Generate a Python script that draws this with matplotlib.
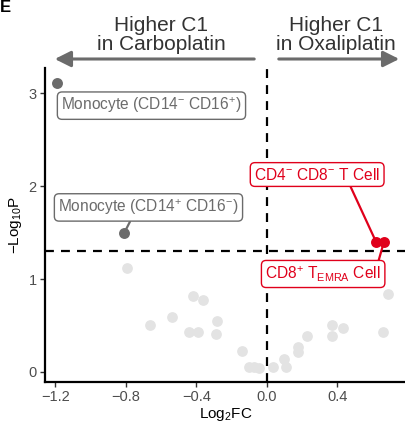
import matplotlib
matplotlib.use("Agg")
import matplotlib.pyplot as plt

plt.rcParams["font.family"] = ["Liberation Sans", "DejaVu Sans"]
plt.rcParams["mathtext.fontset"] = "custom"
plt.rcParams["mathtext.rm"] = "Liberation Sans"
plt.rcParams["mathtext.it"] = "Liberation Sans"
plt.rcParams["mathtext.default"] = "regular"

# non-significant cell types
bg_fc = [-0.79, -0.42, -0.36, -0.66, -0.54, -0.28, -0.44, -0.39, -0.29, -0.14,
         -0.10, -0.07, -0.045, 0.035, 0.10, 0.11, 0.18, 0.18, 0.23, 0.37,
         0.43, 0.37, 0.69, 0.66]
bg_p = [1.12, 0.82, 0.77, 0.51, 0.59, 0.55, 0.43, 0.43, 0.41, 0.23,
        0.05, 0.05, 0.04, 0.05, 0.14, 0.05, 0.27, 0.22, 0.39, 0.51,
        0.47, 0.39, 0.84, 0.43]

# labelled cell types
lab_names = ["Monocyte (CD14$^{-}$ CD16$^{+}$)",
             "Monocyte (CD14$^{+}$ CD16$^{-}$)",
             "CD4$^{-}$ CD8$^{-}$ T Cell",
             "CD8$^{+}$ T$_{EMRA}$ Cell"]
lab_fc = [-1.19, -0.81, 0.62, 0.665]
lab_p = [3.11, 1.49, 1.40, 1.40]
lab_group = ["carbo", "carbo", "oxali", "oxali"]

# where ggrepel put the boxes
box_x = [-0.654, -0.671, 0.286, 0.32]
box_y = [2.865, 1.77, 2.124, 1.054]
box_rel = [None, (0.41, 0.0), (0.75, 0.0), (0.97, 1.0)]

colors = {"carbo": "#6B6B6B", "oxali": "#E0001B"}

fig = plt.figure(figsize=(4.06, 4.28), dpi=100)
ax = fig.add_axes([45 / 406, 46 / 428, 361 / 406, 314 / 428])

ax.scatter(bg_fc, bg_p, s=60, color="#E3E3E3", linewidths=0, zorder=2)

ax.axhline(1.301, color="black", lw=1.6, ls=(0, (4, 3.2)), zorder=3)
ax.axvline(0, color="black", lw=1.6, ls=(0, (4, 3.2)), zorder=3)

for name, x, y, g, bx, by, rel in zip(lab_names, lab_fc, lab_p, lab_group,
                                      box_x, box_y, box_rel):
    c = colors[g]
    ax.scatter([x], [y], s=62, color=c, linewidths=0, zorder=4)
    props = None
    if rel is not None:
        props = dict(arrowstyle="-", color=c, lw=1.6, relpos=rel,
                     shrinkA=0, shrinkB=3)
    ax.annotate(name, xy=(x, y), xytext=(bx, by), ha="center", va="center",
                fontsize=11.2, color=c, zorder=5,
                bbox=dict(boxstyle="round,pad=0.25,rounding_size=0.3",
                          fc="white", ec=c, lw=1.0),
                arrowprops=props)

ax.set_xlim(-1.258, 0.79)
ax.set_ylim(-0.108, 3.27)
ax.set_xticks([-1.2, -0.8, -0.4, 0.0, 0.4])
ax.set_xticklabels(["\u22121.2", "\u22120.8", "\u22120.4", "0.0", "0.4"])
ax.set_yticks([0, 1, 2, 3])

for s in ["top", "right"]:
    ax.spines[s].set_visible(False)
for s in ["left", "bottom"]:
    ax.spines[s].set_linewidth(1.6)
ax.tick_params(labelsize=10.5, labelcolor="#4D4D4D", color="#333333",
               length=3.5, width=1.0, pad=2.5)

ax.set_xlabel("Log$_{2}$FC", fontsize=11, labelpad=1)
ax.set_ylabel("\u2212Log$_{10}$P", fontsize=11, labelpad=3)

# direction header
fig.text(161 / 406, 1 - 50 / 428, "Higher C1\nin Carboplatin", ha="center",
         va="baseline", fontsize=15, color="#333333", linespacing=1.02)
fig.text(336 / 406, 1 - 50 / 428, "Higher C1\nin Oxaliplatin", ha="center",
         va="baseline", fontsize=15, color="#333333", linespacing=1.02)
arrow = dict(arrowstyle="-|>,head_length=0.8,head_width=0.4",
             color="#6B6B6B", lw=2.2)
fig.patches.append(matplotlib.patches.FancyArrowPatch(
    (257 / 406, 1 - 59 / 428), (52 / 406, 1 - 59 / 428),
    transform=fig.transFigure, mutation_scale=12, **arrow))
fig.patches.append(matplotlib.patches.FancyArrowPatch(
    (276 / 406, 1 - 59 / 428), (402 / 406, 1 - 59 / 428),
    transform=fig.transFigure, mutation_scale=12, **arrow))

fig.text(0.0, 1 - 12 / 428, "E", ha="left", va="baseline", fontsize=12,
         fontweight="bold")

fig.savefig("out.png", dpi=100)
